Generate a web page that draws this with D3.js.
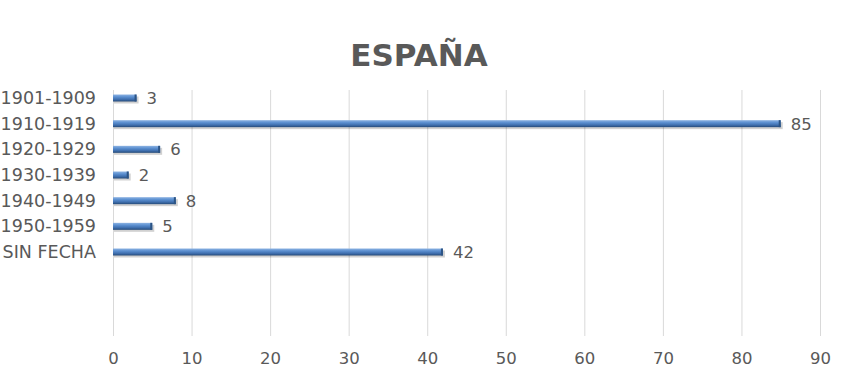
<!DOCTYPE html>
<html>
<head>
<meta charset="utf-8">
<script src="https://cdn.jsdelivr.net/npm/d3@7"></script>
<style>
  body { margin: 0; background: #fff; }
  text { font-family: "DejaVu Sans", Verdana, sans-serif; fill: #595959; }
</style>
</head>
<body>
<svg width="858" height="379"></svg>
<script>
var categories = ["1901-1909", "1910-1919", "1920-1929", "1930-1939", "1940-1949", "1950-1959", "SIN FECHA"],
    values = [3, 85, 6, 2, 8, 5, 42],
    xTicks = [0, 10, 20, 30, 40, 50, 60, 70, 80, 90];

var svg = d3.select("svg"),
    margin = {top: 90, right: 38, bottom: 43, left: 113},
    width = +svg.attr("width") - margin.left - margin.right,
    height = +svg.attr("height") - margin.top - margin.bottom,
    g = svg.append("g").attr("transform", "translate(" + margin.left + "," + margin.top + ")");

var x = d3.scaleLinear()
    .domain([0, 90])
    .range([0, width]);
var y = d3.scalePoint()
    .domain(categories)
    .range([8, 162]);

var defs = svg.append("defs");
var grad = defs.append("linearGradient")
    .attr("id", "barGrad")
    .attr("x1", 0).attr("y1", 0).attr("x2", 0).attr("y2", 1);
grad.append("stop").attr("offset", "0%").attr("stop-color", "#8db3e2");
grad.append("stop").attr("offset", "35%").attr("stop-color", "#5b8fd0");
grad.append("stop").attr("offset", "70%").attr("stop-color", "#3f6fae");
grad.append("stop").attr("offset", "100%").attr("stop-color", "#254a78");

// title
svg.append("text")
    .attr("x", 419)
    .attr("y", 66)
    .attr("text-anchor", "middle")
    .style("font-size", "31px")
    .style("font-weight", "bold")
    .text("ESPAÑA");

// gridlines
g.append("g")
    .attr("class", "grid")
  .selectAll("line")
  .data(xTicks)
  .enter().append("line")
    .attr("x1", function(d) { return x(d) + 0.5; })
    .attr("x2", function(d) { return x(d) + 0.5; })
    .attr("y1", 0)
    .attr("y2", height)
    .style("stroke", "#d9d9d9")
    .style("stroke-width", 1);

// x axis labels
var xAxis = g.append("g")
    .attr("transform", "translate(0," + height + ")")
    .call(d3.axisBottom(x).tickValues(xTicks).tickSize(0).tickPadding(16));
xAxis.select(".domain").remove();
xAxis.selectAll("text")
    .style("font-size", "16.5px")
    .style("font-family", "DejaVu Sans, Verdana, sans-serif")
    .attr("fill", "#595959");

// y axis labels
var yAxis = g.append("g")
    .call(d3.axisLeft(y).tickSize(0).tickPadding(17));
yAxis.select(".domain").remove();
yAxis.selectAll("text")
    .style("font-size", "17.5px")
    .style("font-family", "DejaVu Sans, Verdana, sans-serif")
    .attr("fill", "#595959");

var barH = 7;
var bars = g.append("g").selectAll("g")
    .data(values)
  .enter().append("g")
    .attr("transform", function(d, i) { return "translate(0," + (y(categories[i]) - barH / 2) + ")"; });

// shadow
bars.append("rect")
    .attr("x", 1)
    .attr("y", 2)
    .attr("width", function(d) { return x(d) + 1; })
    .attr("height", barH)
    .style("fill", "#000")
    .style("opacity", 0.18);

bars.append("rect")
    .attr("x", 0)
    .attr("y", 0)
    .attr("width", function(d) { return x(d); })
    .attr("height", barH)
    .style("fill", "url(#barGrad)");

// end cap
bars.append("rect")
    .attr("x", function(d) { return x(d) - 2; })
    .attr("y", 0)
    .attr("width", 2)
    .attr("height", barH)
    .style("fill", "#2c5485");

// value labels
bars.append("text")
    .attr("x", function(d) { return x(d) + 10; })
    .attr("y", barH / 2)
    .attr("dy", "0.36em")
    .style("font-size", "16.5px")
    .text(function(d) { return d; });
</script>
</body>
</html>
